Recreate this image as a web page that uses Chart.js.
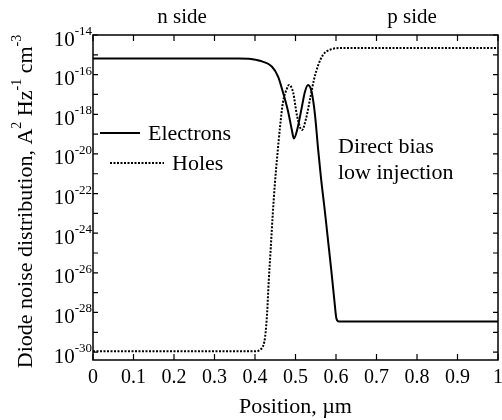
<!DOCTYPE html>
<html>
<head>
<meta charset="utf-8">
<script src="https://cdn.jsdelivr.net/npm/chart.js@4/dist/chart.umd.min.js"></script>
<style>
  body { margin: 0; background: #fff; }
  canvas { display: block; }
</style>
</head>
<body>
<canvas id="noiseChart" width="502" height="420"></canvas>
<script>
// positions (um) and noise values
const electronPos = [0, 0.30, 0.36, 0.39, 0.412, 0.442, 0.457, 0.469, 0.482, 0.491, 0.496, 0.504, 0.516, 0.523, 0.531, 0.54, 0.548, 0.556, 0.563, 0.572, 0.58, 0.588, 0.596, 0.601, 0.607, 0.65, 1.0];
const electronVals = [6.5e-16, 6.5e-16, 6.5e-16, 6.2e-16, 5e-16, 2.5e-16, 8e-17, 1.3e-17, 1.3e-18, 1.6e-19, 6e-20, 1.6e-19, 2.5e-18, 1.3e-17, 3e-17, 1.3e-17, 1e-18, 1.6e-20, 6e-22, 1.6e-23, 5e-25, 1.6e-26, 4e-28, 5e-29, 3.5e-29, 3.5e-29, 3.5e-29];

const holePos = [0, 0.40, 0.417, 0.425, 0.43, 0.434, 0.439, 0.444, 0.449, 0.455, 0.462, 0.469, 0.479, 0.484, 0.494, 0.504, 0.516, 0.526, 0.536, 0.546, 0.556, 0.568, 0.585, 0.61, 0.65, 1.0];
const holeVals = [1.1e-30, 1.1e-30, 1.6e-30, 6e-30, 1e-28, 4e-27, 2e-25, 1e-23, 3e-22, 8e-21, 2.5e-19, 4e-18, 2e-17, 3e-17, 1.3e-17, 8e-19, 1.6e-19, 6e-19, 6e-18, 6e-17, 3e-16, 1e-15, 1.8e-15, 2.2e-15, 2.2e-15, 2.2e-15];

const xTicks = [0, 0.1, 0.2, 0.3, 0.4, 0.5, 0.6, 0.7, 0.8, 0.9, 1];
const xTickLabels = ['0', '0.1', '0.2', '0.3', '0.4', '0.5', '0.6', '0.7', '0.8', '0.9', '1'];
const yTickExps = [-14, -16, -18, -20, -22, -24, -26, -28, -30];
const yMinorExps = [-15, -17, -19, -21, -23, -25, -27, -29];

const SERIF = '"Liberation Serif", "DejaVu Serif", serif';

function toPoints(xs, ys) {
	return xs.map((x, i) => ({ x: x, y: ys[i] }));
}

// draws text pieces, superscript ones smaller and raised; returns end x
function drawSup(ctx, parts, x, y, size) {
	let cx = x;
	parts.forEach(p => {
		if (p.sup) {
			ctx.font = Math.round(size * 0.64) + 'px ' + SERIF;
			ctx.fillText(p.t, cx, y - size * 0.4);
		} else {
			ctx.font = size + 'px ' + SERIF;
			ctx.fillText(p.t, cx, y);
		}
		cx += ctx.measureText(p.t).width;
	});
	return cx;
}

function partsWidth(ctx, parts, size) {
	let w = 0;
	parts.forEach(p => {
		ctx.font = (p.sup ? Math.round(size * 0.64) : size) + 'px ' + SERIF;
		w += ctx.measureText(p.t).width;
	});
	return w;
}

const framePlugin = {
	id: 'frame',
	afterDraw(chart) {
		const ctx = chart.ctx;
		const a = chart.chartArea;
		const xs = chart.scales.x;
		const ys = chart.scales.y;
		ctx.save();
		ctx.fillStyle = '#000';
		ctx.strokeStyle = '#000';

		// box
		ctx.lineWidth = 1.5;
		ctx.strokeRect(a.left, a.top, a.right - a.left, a.bottom - a.top);

		// inward ticks
		ctx.lineWidth = 1.2;
		ctx.beginPath();
		xTicks.forEach(v => {
			const px = xs.getPixelForValue(v);
			ctx.moveTo(px, a.bottom); ctx.lineTo(px, a.bottom - 6);
			ctx.moveTo(px, a.top); ctx.lineTo(px, a.top + 6);
		});
		yTickExps.concat(yMinorExps).forEach(e => {
			const py = ys.getPixelForValue(Math.pow(10, e));
			ctx.moveTo(a.left, py); ctx.lineTo(a.left + 5, py);
			ctx.moveTo(a.right, py); ctx.lineTo(a.right - 5, py);
		});
		ctx.stroke();

		// x tick labels
		ctx.font = '20px ' + SERIF;
		ctx.textAlign = 'center';
		ctx.textBaseline = 'middle';
		xTicks.forEach((v, i) => {
			ctx.fillText(xTickLabels[i], xs.getPixelForValue(v), a.bottom + 18);
		});

		// y tick labels, 10 with superscript exponent
		ctx.textAlign = 'left';
		yTickExps.forEach(e => {
			const py = ys.getPixelForValue(Math.pow(10, e));
			const parts = [{ t: '10' }, { t: '-' + Math.abs(e), sup: true }];
			const w = partsWidth(ctx, parts, 21);
			drawSup(ctx, parts, a.left - 1 - w, py + 5, 21);
		});

		// x title
		ctx.font = '22px ' + SERIF;
		ctx.textAlign = 'center';
		ctx.fillText('Position, µm', (a.left + a.right) / 2, a.bottom + 47);

		// y title
		ctx.save();
		ctx.translate(26, (a.top + a.bottom) / 2 + 4);
		ctx.rotate(-Math.PI / 2);
		ctx.textAlign = 'left';
		const yTitle = [
			{ t: 'Diode noise distribution, A' }, { t: '2', sup: true },
			{ t: ' Hz' }, { t: '-1', sup: true },
			{ t: ' cm' }, { t: '-3', sup: true }
		];
		const tw = partsWidth(ctx, yTitle, 22);
		drawSup(ctx, yTitle, -tw / 2, 0, 22);
		ctx.restore();

		// side labels above the plot
		ctx.font = '21px ' + SERIF;
		ctx.textAlign = 'center';
		ctx.fillText('n side', 182, 17);
		ctx.fillText('p side', 412, 17);

		// annotation
		ctx.font = '22px ' + SERIF;
		ctx.textAlign = 'left';
		ctx.fillText('Direct bias', 338, 147);
		ctx.fillText('low injection', 338, 173);

		// legend
		ctx.lineWidth = 2;
		ctx.beginPath();
		ctx.moveTo(100, 133); ctx.lineTo(140, 133);
		ctx.stroke();
		ctx.setLineDash([2, 1.5]);
		ctx.beginPath();
		ctx.moveTo(110, 163); ctx.lineTo(164, 163);
		ctx.stroke();
		ctx.setLineDash([]);
		ctx.fillText('Electrons', 148, 134);
		ctx.fillText('Holes', 172, 164);

		ctx.restore();
	}
};

const chartCanvas = document.getElementById('noiseChart').getContext('2d');

const noiseChart = new Chart(chartCanvas, {
	type: 'line',
	data: {
		datasets: [
			{
				label: 'Electrons',
				data: toPoints(electronPos, electronVals),
				borderColor: '#000',
				borderWidth: 2,
				pointRadius: 0,
				cubicInterpolationMode: 'monotone'
			},
			{
				label: 'Holes',
				data: toPoints(holePos, holeVals),
				borderColor: '#000',
				borderWidth: 2,
				borderDash: [2, 1.5],
				pointRadius: 0,
				cubicInterpolationMode: 'monotone'
			}
		]
	},
	options: {
		responsive: false,
		animation: false,
		devicePixelRatio: 1,
		layout: { padding: { left: 93, right: 4, top: 35, bottom: 60 } },
		plugins: { legend: { display: false }, tooltip: { enabled: false } },
		scales: {
			x: { type: 'linear', min: 0, max: 1, display: false },
			y: { type: 'logarithmic', min: 4e-31, max: 1e-14, display: false }
		}
	},
	plugins: [framePlugin]
});
</script>
</body>
</html>
